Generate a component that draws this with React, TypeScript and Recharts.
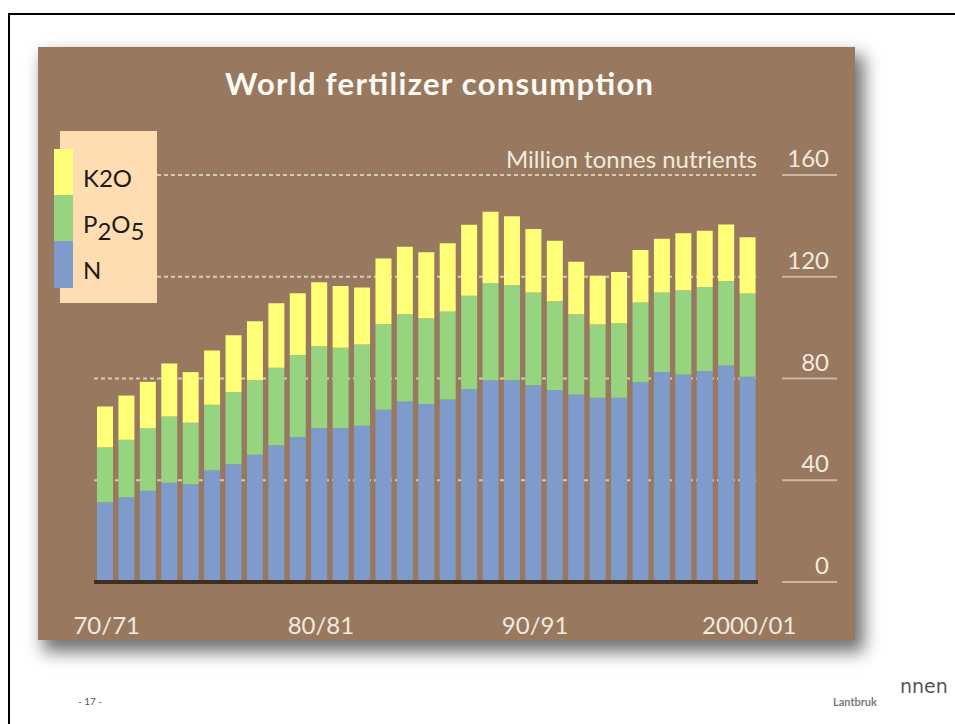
import { Bar, BarChart, CartesianGrid, XAxis, YAxis } from "recharts";

const SEASONS = [
  "70/71", "71/72", "72/73", "73/74", "74/75", "75/76", "76/77", "77/78",
  "78/79", "79/80", "80/81", "81/82", "82/83", "83/84", "84/85", "85/86",
  "86/87", "87/88", "88/89", "89/90", "90/91", "91/92", "92/93", "93/94",
  "94/95", "95/96", "96/97", "97/98", "98/99", "99/00", "2000/01",
];

// million tonnes nutrients
const N_VALUES = [
  31.3, 33.3, 35.9, 39.0, 38.4, 43.9, 46.3, 50.0, 53.8, 57.0, 60.5, 60.5,
  61.4, 67.7, 71.0, 70.0, 71.7, 75.9, 79.3, 79.3, 77.3, 75.5, 73.7, 72.4,
  72.4, 78.5, 82.6, 81.6, 82.9, 85.1, 80.7,
];
const P2O5_VALUES = [
  21.6, 22.6, 24.6, 26.1, 24.2, 25.8, 28.3, 29.3, 30.4, 32.2, 32.2, 31.6,
  32.0, 33.7, 34.3, 33.7, 34.6, 36.6, 38.1, 37.4, 36.5, 34.9, 31.6, 28.9,
  29.3, 31.4, 31.2, 33.1, 33.1, 33.2, 32.7,
];
const K2O_VALUES = [
  16.1, 17.4, 18.2, 20.8, 19.9, 21.3, 22.4, 23.2, 25.4, 24.3, 25.1, 24.3,
  22.4, 25.8, 26.5, 25.9, 26.9, 27.9, 28.2, 27.1, 25.0, 23.8, 20.6, 19.1,
  20.2, 20.6, 21.1, 22.4, 22.1, 22.2, 22.1,
];

const X_LABELS = ["70/71", "80/81", "90/91", "2000/01"];
const Y_TICKS = [0, 40, 80, 120, 160];

const data = SEASONS.map((season, i) => ({
  season,
  N: N_VALUES[i],
  P2O5: P2O5_VALUES[i],
  K2O: K2O_VALUES[i],
}));

const BROWN = "#98795f";
const YELLOW = "#ffff78";
const GREEN = "#97d47f";
const BLUE = "#7f9bcb";
const FONT = "Lato, 'Open Sans', sans-serif";

function SeasonTick({ x, y, payload }: any) {
  if (!X_LABELS.includes(payload.value)) return null;
  return (
    <text x={x + 2} y={y + 44} textAnchor="middle" fill="#f1e9de" fontSize={24} fontFamily={FONT}>
      {payload.value}
    </text>
  );
}

function ValueTick({ x, y, payload }: any) {
  return (
    <g>
      <line x1={x + 24} x2={x + 79} y1={y} y2={y} stroke="#cbb8a2" strokeWidth={2} />
      <text x={x + 71} y={y - 8} textAnchor="end" fill="#f1e9de" fontSize={24} fontFamily={FONT}>
        {payload.value}
      </text>
    </g>
  );
}

export default function App() {
  return (
    <div style={{ position: "absolute", left: 0, top: 0, width: 955, height: 724, overflow: "hidden", background: "#fff" }}>
      <div style={{ position: "absolute", left: 8, top: 13, width: 960, height: 760, borderTop: "2px solid #000", borderLeft: "2px solid #000" }} />

      <div
        style={{
          position: "absolute",
          left: 38,
          top: 47,
          width: 817,
          height: 593,
          background: BROWN,
          boxShadow: "7px 10px 16px 2px rgba(0,0,0,0.55)",
        }}
      >
        <BarChart
          width={817}
          height={593}
          data={data}
          margin={{ top: 128, right: 0, bottom: 0, left: 56 }}
          barSize={16}
        >
          <CartesianGrid vertical={false} stroke="#d8cab9" strokeWidth={2} strokeDasharray="4 3" />
          <XAxis
            dataKey="season"
            interval={0}
            height={58}
            tickLine={false}
            axisLine={{ stroke: "#3e2f24", strokeWidth: 4 }}
            tick={<SeasonTick />}
          />
          <YAxis
            orientation="right"
            width={97}
            domain={[0, 160]}
            ticks={Y_TICKS}
            axisLine={false}
            tickLine={false}
            tickSize={0}
            tickMargin={0}
            tick={<ValueTick />}
          />
          <Bar dataKey="N" stackId="a" fill={BLUE} isAnimationActive={false} />
          <Bar dataKey="P2O5" stackId="a" fill={GREEN} isAnimationActive={false} />
          <Bar dataKey="K2O" stackId="a" fill={YELLOW} isAnimationActive={false} />
        </BarChart>

        <div style={{ position: "absolute", left: 22, top: 84, width: 97, height: 172, background: "#ffddb2" }} />
        <div style={{ position: "absolute", left: 16, top: 102, width: 19, height: 46, background: YELLOW }} />
        <div style={{ position: "absolute", left: 16, top: 148, width: 19, height: 46, background: GREEN }} />
        <div style={{ position: "absolute", left: 16, top: 194, width: 19, height: 47, background: BLUE }} />

        <svg width={817} height={593} style={{ position: "absolute", left: 0, top: 0, pointerEvents: "none" }}>
          <text x={187} y={48} fill="#fdfaf4" fontSize={31} fontWeight={700} fontFamily={FONT} textLength={428}>
            World fertilizer consumption
          </text>
          <text x={719} y={121} textAnchor="end" fill="#f1e9de" fontSize={24} fontFamily={FONT}>
            Million tonnes nutrients
          </text>
          <text x={45} y={140} fill="#1e1a16" fontSize={24} fontFamily={FONT}>K2O</text>
          <text x={45} y={186} fill="#1e1a16" fontSize={24} fontFamily={FONT}>
            P<tspan dy={7}>2</tspan><tspan dy={-7}>O</tspan><tspan dy={7}>5</tspan>
          </text>
          <text x={45} y={232} fill="#1e1a16" fontSize={24} fontFamily={FONT}>N</text>
        </svg>
      </div>

      <div style={{ position: "absolute", left: 78, top: 695, fontSize: 10, color: "#555", fontFamily: FONT }}>- 17 -</div>
      <div style={{ position: "absolute", left: 833, top: 695, fontSize: 11, fontWeight: 700, color: "#7a7a7a", fontFamily: FONT }}>Lantbruk</div>
      <div style={{ position: "absolute", left: 900, top: 675, fontSize: 19, color: "#555", fontFamily: "'DejaVu Sans', sans-serif" }}>nnen</div>
    </div>
  );
}
